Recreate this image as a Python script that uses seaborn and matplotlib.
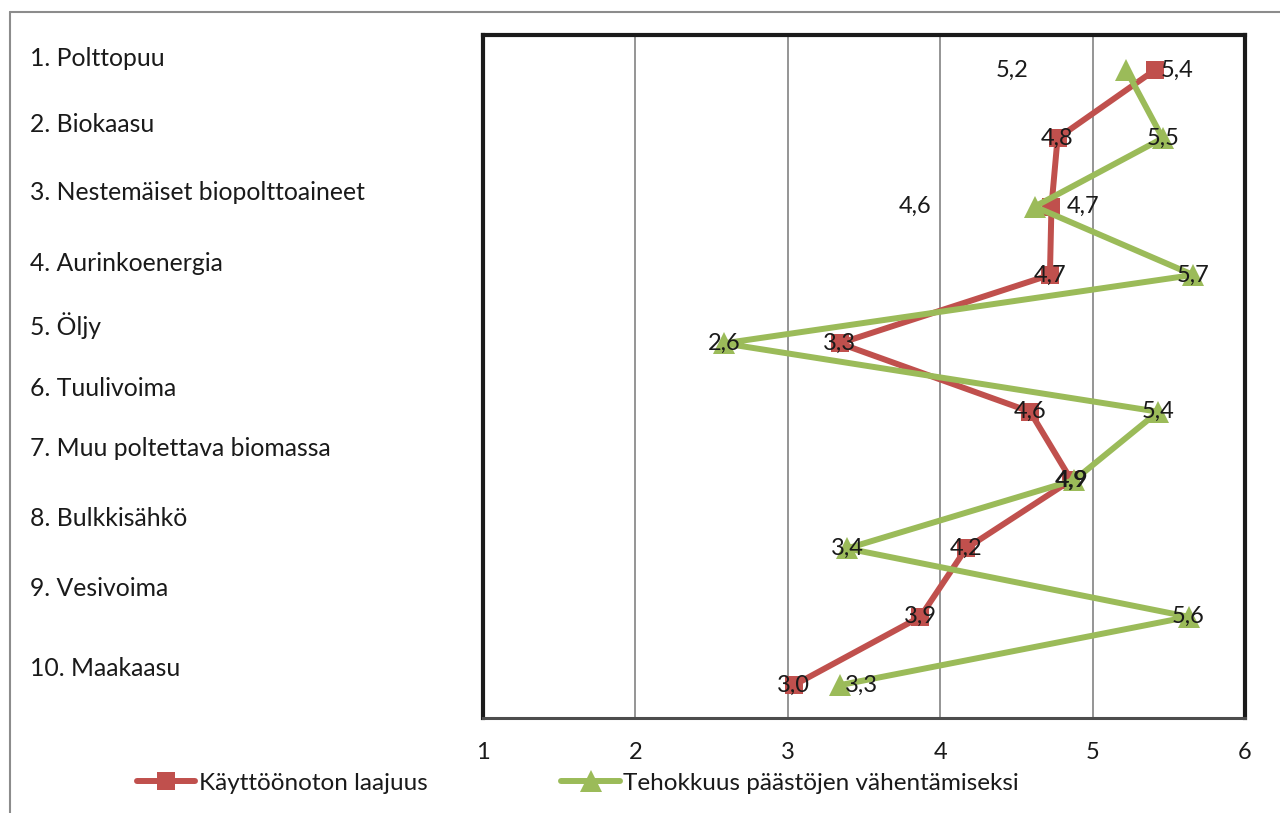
import matplotlib
matplotlib.use("Agg")
import matplotlib.pyplot as plt
from matplotlib.lines import Line2D
import seaborn as sns
import pandas as pd

# Energy sources and their mean scores (scale 1-6)
categories = [
    "1. Polttopuu",
    "2. Biokaasu",
    "3. Nestemäiset biopolttoaineet",
    "4. Aurinkoenergia",
    "5. Öljy",
    "6. Tuulivoima",
    "7. Muu poltettava biomassa",
    "8. Bulkkisähkö",
    "9. Vesivoima",
    "10. Maakaasu",
]
series_names = ["Käyttöönoton laajuus", "Tehokkuus päästöjen vähentämiseksi"]
adoption = [5.41, 4.77, 4.73, 4.72, 3.34, 4.59, 4.86, 4.17, 3.87, 3.04]
efficiency = [5.22, 5.46, 4.62, 5.66, 2.58, 5.43, 4.88, 3.39, 5.63, 3.34]
x_ticks = [1, 2, 3, 4, 5, 6]

RED = "#C0504D"
GREEN = "#9BBB59"
FONT = ["Lato", "DejaVu Sans"]
FS = 17
TEXT = "#1a1a1a"

sns.set_theme(style="white")
plt.rcParams["font.family"] = FONT

df = pd.DataFrame({
    "category": categories,
    "idx": range(len(categories)),
    "adoption": adoption,
    "efficiency": efficiency,
})

fig = plt.figure(figsize=(12.8, 8.13), dpi=100)
ax = fig.add_axes([483 / 1280, 1 - 718 / 813, (1245 - 483) / 1280, (718 - 35) / 813])

sns.lineplot(data=df, x="adoption", y="idx", sort=False, estimator=None, ax=ax,
             color=RED, linewidth=4.3, marker="s", markersize=13.5,
             markeredgewidth=0, zorder=3)
sns.lineplot(data=df, x="efficiency", y="idx", sort=False, estimator=None, ax=ax,
             color=GREEN, linewidth=4.3, marker="^", markersize=15.5,
             markeredgewidth=0, zorder=4)

ax.set_xlim(1, 6)
ax.set_ylim(9.48, -0.51)
ax.set_xticks(x_ticks)
ax.set_xticklabels([str(t) for t in x_ticks], fontsize=FS, color=TEXT)
ax.set_yticks([])
ax.set_xlabel("")
ax.set_ylabel("")
ax.tick_params(axis="x", direction="out", length=6, width=1.2, color="#8c8c8c", pad=11)

for xv in x_ticks[1:-1]:
    ax.axvline(xv, color="#8c8c8c", linewidth=1.3, zorder=1)

for side in ["left", "top", "right"]:
    ax.spines[side].set_color("#1a1a1a")
    ax.spines[side].set_linewidth(3)
ax.spines["bottom"].set_color("#4d4d4d")
ax.spines["bottom"].set_linewidth(2.2)

# Data labels; offsets (points) keep a few labels beside their markers
red_offsets = {0: (16, 0), 2: (23, 0)}
green_offsets = {0: (-82, 0), 2: (-86, 0), 6: (-1.5, 0), 9: (16, 0)}


def fmt(v):
    return f"{v:.1f}".replace(".", ",")


for i, v in enumerate(adoption):
    dx, dy = red_offsets.get(i, (0, 0))
    ax.annotate(fmt(v), (v, i), xytext=(dx, dy), textcoords="offset points",
                ha="center", va="center", fontsize=FS, color=TEXT, zorder=6)
for i, v in enumerate(efficiency):
    dx, dy = green_offsets.get(i, (0, 0))
    ax.annotate(fmt(v), (v, i), xytext=(dx, dy), textcoords="offset points",
                ha="center", va="center", fontsize=FS, color=TEXT, zorder=6)

# Category names in the left-hand panel
label_rows = [58, 125, 192, 263, 326, 388, 448, 518, 588, 668]
for name, py in zip(categories, label_rows):
    fig.text(30 / 1280, 1 - py / 813, name, ha="left", va="center",
             fontsize=17.8, color=TEXT)

# Legend
handles = [
    Line2D([], [], color=RED, linewidth=4.3, marker="s", markersize=13.5, markeredgewidth=0),
    Line2D([], [], color=GREEN, linewidth=4.3, marker="^", markersize=15.5, markeredgewidth=0),
]
fig.legend(handles, series_names, loc="center", bbox_to_anchor=(578 / 1280, 1 - 783 / 813),
           ncol=2, frameon=False, fontsize=17.5, handlelength=2.4, handletextpad=0.15,
           columnspacing=5.5, labelcolor=TEXT)

# Outer chart frame
fig.add_artist(Line2D([10 / 1280, 10 / 1280], [0, 1 - 12 / 813], color="#8c8c8c",
                      linewidth=1.5, transform=fig.transFigure))
fig.add_artist(Line2D([10 / 1280, 1], [1 - 12 / 813, 1 - 12 / 813], color="#8c8c8c",
                      linewidth=1.5, transform=fig.transFigure))

fig.savefig("out.png", dpi=100, facecolor="white")
